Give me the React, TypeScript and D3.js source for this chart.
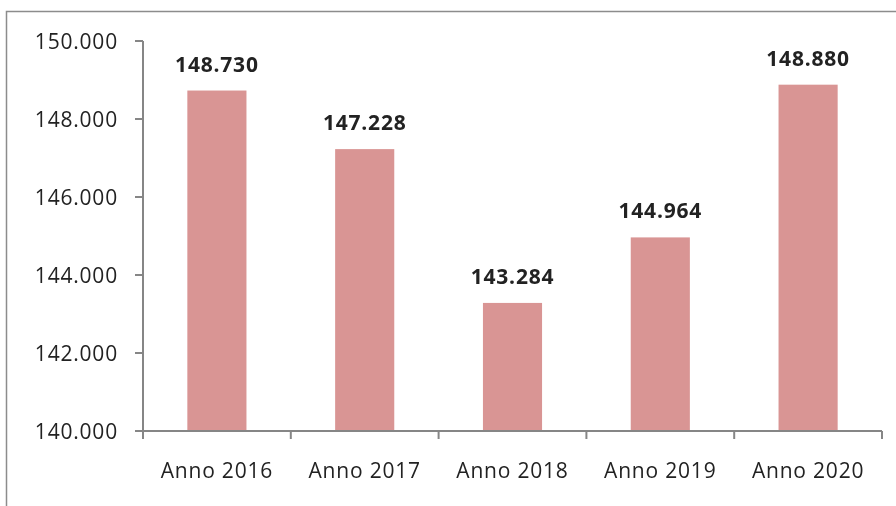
import React, { useEffect, useRef } from 'react';
import * as d3 from 'd3';

const categories = ['Anno 2016', 'Anno 2017', 'Anno 2018', 'Anno 2019', 'Anno 2020'];
const values = [148730, 147228, 143284, 144964, 148880];
const yTicks = [140000, 142000, 144000, 146000, 148000, 150000];

const fmt = (v: number) => d3.format(',')(v).replace(/,/g, '.');

const App = () => {
  const ref = useRef<SVGSVGElement>(null);

  useEffect(() => {
    const width = 896;
    const height = 506;
    const left = 143, right = 882, top = 41, bottom = 431;
    const font = '"Open Sans", "Liberation Sans", sans-serif';
    const axisColor = '#868686';

    const svg = d3.select(ref.current);
    svg.selectAll('*').remove();
    svg.attr('width', width).attr('height', height);

    // chart border (continues past the page edge)
    svg.append('path')
      .attr('d', `M6.5,${height + 5}V11.5H${width + 5}`)
      .attr('fill', 'none')
      .attr('stroke', '#8c8c8c')
      .attr('stroke-width', 1.5);

    const x = d3.scaleBand().domain(categories).range([left, right]).paddingInner(0.6).paddingOuter(0.3);
    const y = d3.scaleLinear().domain([140000, 150000]).range([bottom, top]);
    const step = (right - left) / categories.length;

    svg.selectAll('rect.bar')
      .data(values)
      .enter()
      .append('rect')
      .attr('class', 'bar')
      .attr('x', (_, i) => x(categories[i])!)
      .attr('width', x.bandwidth())
      .attr('y', d => y(d))
      .attr('height', d => bottom - y(d))
      .attr('fill', '#d99594');

    svg.selectAll('text.val')
      .data(values)
      .enter()
      .append('text')
      .attr('class', 'val')
      .attr('x', (_, i) => x(categories[i])! + x.bandwidth() / 2)
      .attr('y', d => y(d) - 19)
      .attr('text-anchor', 'middle')
      .attr('font-family', font)
      .attr('font-weight', 'bold')
      .attr('font-size', 21)
      .attr('letter-spacing', 0.8)
      .attr('fill', '#222')
      .text(d => fmt(d));

    // y axis
    svg.append('line')
      .attr('x1', left).attr('x2', left)
      .attr('y1', top).attr('y2', bottom)
      .attr('stroke', axisColor).attr('stroke-width', 2);

    const yt = svg.selectAll('g.yt').data(yTicks).enter().append('g').attr('class', 'yt');
    yt.append('line')
      .attr('x1', left - 8).attr('x2', left)
      .attr('y1', d => y(d)).attr('y2', d => y(d))
      .attr('stroke', axisColor).attr('stroke-width', 2);
    yt.append('text')
      .attr('x', 118)
      .attr('y', d => y(d) + 7.5)
      .attr('text-anchor', 'end')
      .attr('font-family', font)
      .attr('font-size', 21)
      .attr('letter-spacing', 0.8)
      .attr('fill', '#222')
      .text(d => fmt(d));

    // x axis
    svg.append('line')
      .attr('x1', left - 8).attr('x2', right)
      .attr('y1', bottom).attr('y2', bottom)
      .attr('stroke', axisColor).attr('stroke-width', 2);

    svg.selectAll('line.xt')
      .data(d3.range(categories.length + 1))
      .enter()
      .append('line')
      .attr('class', 'xt')
      .attr('x1', i => left + i * step).attr('x2', i => left + i * step)
      .attr('y1', bottom).attr('y2', bottom + 8)
      .attr('stroke', axisColor).attr('stroke-width', 2);

    svg.selectAll('text.cat')
      .data(categories)
      .enter()
      .append('text')
      .attr('class', 'cat')
      .attr('x', d => x(d)! + x.bandwidth() / 2)
      .attr('y', 478)
      .attr('text-anchor', 'middle')
      .attr('font-family', font)
      .attr('font-size', 21)
      .attr('letter-spacing', 0.8)
      .attr('fill', '#222')
      .text(d => d);
  }, []);

  return (
    <div style={{ position: 'fixed', left: 0, top: 0 }}>
      <svg ref={ref} style={{ display: 'block' }} />
    </div>
  );
};

export default App;
